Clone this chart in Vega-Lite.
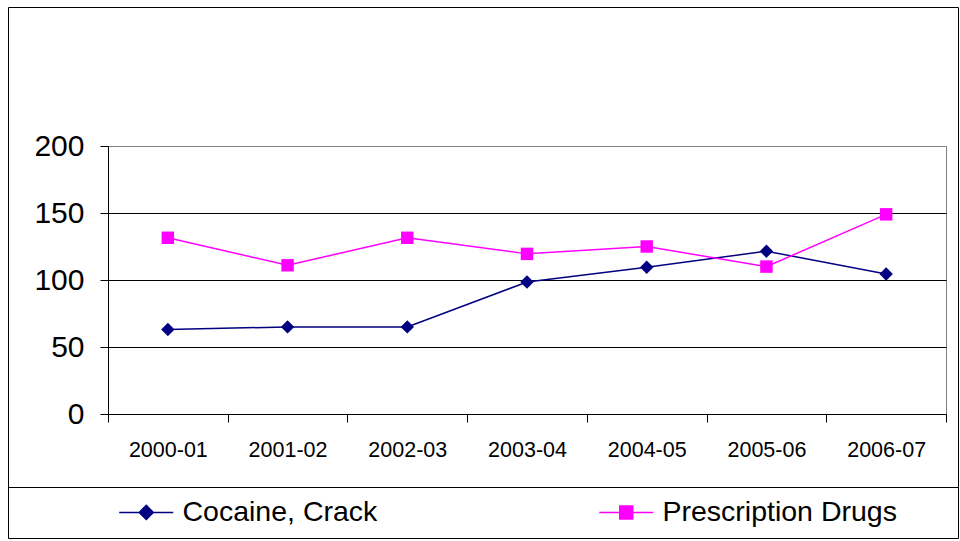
{
  "$schema": "https://vega.github.io/schema/vega-lite/v6.json",
  "width": 838,
  "height": 268,
  "autosize": {"type": "none"},
  "padding": {"left": 108, "top": 146, "right": 14, "bottom": 127},
  "background": "white",
  "config": {
    "font": "Liberation Sans",
    "view": {"stroke": "#808080", "strokeWidth": 1}
  },
  "data": {
    "values": [
      {"year": "2000-01", "series": "Cocaine, Crack", "value": 63},
      {"year": "2001-02", "series": "Cocaine, Crack", "value": 65},
      {"year": "2002-03", "series": "Cocaine, Crack", "value": 65},
      {"year": "2003-04", "series": "Cocaine, Crack", "value": 98.5},
      {"year": "2004-05", "series": "Cocaine, Crack", "value": 109.5},
      {"year": "2005-06", "series": "Cocaine, Crack", "value": 121.5},
      {"year": "2006-07", "series": "Cocaine, Crack", "value": 104.5},
      {"year": "2000-01", "series": "Prescription Drugs", "value": 131.5},
      {"year": "2001-02", "series": "Prescription Drugs", "value": 111},
      {"year": "2002-03", "series": "Prescription Drugs", "value": 131.5},
      {"year": "2003-04", "series": "Prescription Drugs", "value": 119.5},
      {"year": "2004-05", "series": "Prescription Drugs", "value": 125},
      {"year": "2005-06", "series": "Prescription Drugs", "value": 110},
      {"year": "2006-07", "series": "Prescription Drugs", "value": 149}
    ]
  },
  "layer": [
    {
      "mark": {"type": "line", "strokeWidth": 1.5},
      "encoding": {
        "x": {
          "field": "year", "type": "nominal", "sort": null,
          "scale": {"type": "band", "paddingInner": 0, "paddingOuter": 0},
          "axis": {
            "title": null, "labelAngle": 0, "labelFontSize": 21.5, "labelColor": "black",
            "labelPadding": 17, "tickBand": "extent", "tickSize": 8, "tickColor": "black",
            "domainColor": "black", "grid": false
          }
        },
        "y": {
          "field": "value", "type": "quantitative",
          "scale": {"domain": [0, 200], "nice": false},
          "axis": {
            "title": null, "values": [0, 50, 100, 150, 200], "labelFontSize": 30,
            "labelColor": "black", "labelPadding": 16, "tickSize": 8, "tickColor": "black",
            "domainColor": "black", "grid": true,
            "gridColor": {"condition": {"test": "datum.value === 200", "value": "#808080"}, "value": "black"},
            "gridOpacity": 1
          }
        },
        "color": {
          "field": "series", "type": "nominal",
          "scale": {"domain": ["Cocaine, Crack", "Prescription Drugs"], "range": ["#000080", "#FF00FF"]},
          "legend": {
            "title": null, "orient": "none", "legendX": 24, "legendY": 352,
            "direction": "horizontal", "columnPadding": 218, "labelFontSize": 28.5,
            "labelColor": "black", "labelLimit": 500, "labelOffset": 22, "symbolSize": 400,
            "padding": 0,
            "encode": {
              "symbols": {
                "update": {
                  "fill": {"scale": "color", "field": "value"},
                  "stroke": {"scale": "color", "field": "value"},
                  "strokeWidth": {"value": 1.5},
                  "opacity": {"value": 1},
                  "fillOpacity": {"value": 1},
                  "strokeOpacity": {"value": 1}
                }
              }
            }
          }
        }
      }
    },
    {
      "transform": [{"filter": "datum.series === 'Cocaine, Crack'"}],
      "mark": {"type": "point", "filled": true, "opacity": 1, "size": 180, "shape": "diamond"},
      "encoding": {
        "x": {"field": "year", "type": "nominal", "sort": null},
        "y": {"field": "value", "type": "quantitative"},
        "color": {"field": "series", "type": "nominal"}
      }
    },
    {
      "transform": [{"filter": "datum.series === 'Prescription Drugs'"}],
      "mark": {"type": "point", "filled": true, "opacity": 1, "size": 155, "shape": "square"},
      "encoding": {
        "x": {"field": "year", "type": "nominal", "sort": null},
        "y": {"field": "value", "type": "quantitative"},
        "color": {"field": "series", "type": "nominal"}
      }
    },
    {
      "mark": {"type": "point", "filled": true, "opacity": 0},
      "encoding": {
        "color": {"field": "series", "type": "nominal"},
        "shape": {
          "field": "series", "type": "nominal",
          "scale": {
            "domain": ["Cocaine, Crack", "Prescription Drugs"],
            "range": [
              "M-2.7,0L2.7,0M0,-0.7L0.7,0L0,0.7L-0.7,0Z",
              "M-2.7,0L2.7,0M-0.65,-0.65L0.65,-0.65L0.65,0.65L-0.65,0.65Z"
            ]
          }
        }
      }
    },
    {
      "data": {"values": [{"d": 0}, {"d": 1}]},
      "mark": {"type": "point", "opacity": 0, "filled": true},
      "encoding": {
        "fill": {
          "field": "d", "type": "quantitative",
          "scale": {"range": ["rgba(255,255,255,0)", "rgba(255,255,255,0)"]},
          "legend": {
            "title": null, "orient": "none", "legendX": -99.5, "legendY": -138.5,
            "direction": "horizontal", "gradientLength": 950, "gradientThickness": 480,
            "gradientStrokeColor": "black", "gradientStrokeWidth": 1,
            "labelExpr": "''", "labelOpacity": 0, "padding": 0
          }
        }
      }
    },
    {
      "data": {"values": [{"e": 0}, {"e": 1}]},
      "mark": {"type": "point", "opacity": 0},
      "encoding": {
        "stroke": {
          "field": "e", "type": "quantitative",
          "scale": {"range": ["rgba(255,255,255,0)", "rgba(255,255,255,0)"]},
          "legend": {
            "title": null, "orient": "none", "legendX": -99.5, "legendY": 341.5,
            "direction": "horizontal", "gradientLength": 950, "gradientThickness": 51,
            "gradientStrokeColor": "black", "gradientStrokeWidth": 1,
            "labelExpr": "''", "labelOpacity": 0, "padding": 0
          }
        }
      }
    }
  ]
}
